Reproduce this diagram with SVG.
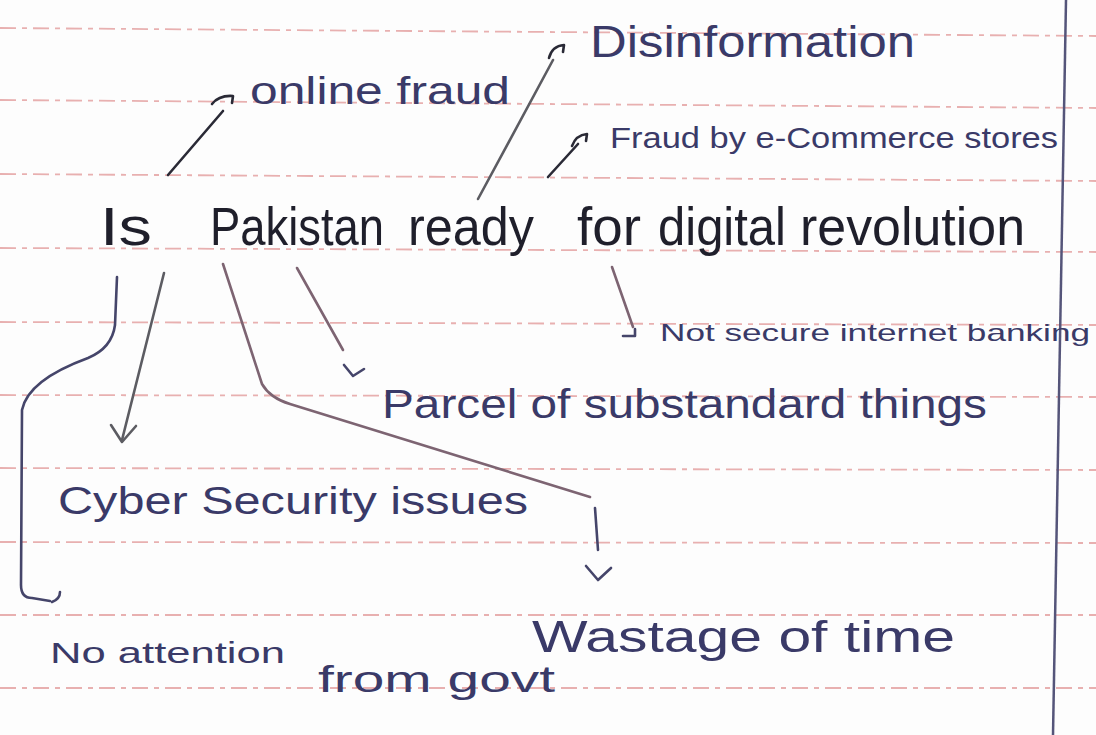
<svg xmlns="http://www.w3.org/2000/svg" width="1096" height="735" viewBox="0 0 1096 735">
  <style>
    .rule { stroke: #e8b0b0; stroke-width: 1.8; fill: none; stroke-dasharray: 16 6 5 6; }
    .margin { stroke: #55557a; stroke-width: 2.5; fill: none; }
    .title { font-family: "Liberation Sans", "DejaVu Sans", sans-serif; font-size: 54px; fill: #1f1f2b; }
    .lbl { font-family: "Liberation Sans", "DejaVu Sans", sans-serif; fill: #3a3a68; }
    .con { fill: none; stroke-width: 2.6; stroke-linecap: round; stroke-linejoin: round; }
    .dark { stroke: #2a2a36; }
    .grey { stroke: #5c5c62; }
    .mauve { stroke: #7d6472; }
    .navy { stroke: #45456a; }
  </style>
  <rect x="0" y="0" width="1096" height="735" fill="#fdfdfd"/>
  <g id="page-rules">
    <path class="rule" d="M0,28 L1096,36"/>
    <path class="rule" d="M0,100 L1096,108"/>
    <path class="rule" d="M0,174 L1096,181"/>
    <path class="rule" d="M0,248 L1096,252"/>
    <path class="rule" d="M0,322 L1096,325"/>
    <path class="rule" d="M0,395 L1096,397"/>
    <path class="rule" d="M0,468 L1096,470"/>
    <path class="rule" d="M0,542 L1096,543"/>
    <path class="rule" d="M0,615 L1096,615"/>
    <path class="rule" d="M0,688 L1096,688"/>
    <path class="margin" d="M1066,0 L1053,735"/>
  </g>
  <g id="connectors">
    <!-- online fraud -->
    <path class="con dark" d="M168,175 L223,111"/>
    <path class="con dark" d="M212,104 Q219,95 233,96 L232,103"/>
    <!-- Disinformation -->
    <path class="con grey" d="M478,199 L553,60"/>
    <path class="con dark" d="M549,58 Q552,46 564,45 L563,52"/>
    <!-- Fraud by e-Commerce -->
    <path class="con dark" d="M548,177 L578,144"/>
    <path class="con dark" d="M572,146 Q576,135 587,134 L586,141"/>
    <!-- Not secure internet banking -->
    <path class="con mauve" d="M612,267 L633,327"/>
    <path class="con navy" d="M623,336 L635,336 L635,329"/>
    <!-- Parcel -->
    <path class="con mauve" d="M297,268 L343,350"/>
    <path class="con navy" d="M344,365 L353,376 L364,369"/>
    <!-- Cyber security -->
    <path class="con grey" d="M164,273 L122,440"/>
    <path class="con grey" d="M111,425 L122,442 L136,426"/>
    <!-- Wastage of time -->
    <path class="con mauve" d="M223,264 L262,384 Q270,398 290,404 L590,497"/>
    <path class="con navy" d="M595,508 L598,550"/>
    <path class="con navy" d="M586,566 L598,580 L611,568"/>
    <!-- No attention from govt -->
    <path class="con navy" d="M117,277 L115,325 Q112,348 88,358 Q28,380 22,410 L21,585 Q21,598 32,598 L50,601"/>
    <path class="con navy" d="M52,602 Q60,599 60,592"/>
  </g>
  <g id="title">
    <text class="title" y="245"><tspan x="100" textLength="52" lengthAdjust="spacingAndGlyphs">Is</tspan><tspan x="210" textLength="174" lengthAdjust="spacingAndGlyphs">Pakistan</tspan><tspan x="408" textLength="126" lengthAdjust="spacingAndGlyphs">ready</tspan><tspan x="577" textLength="64" lengthAdjust="spacingAndGlyphs">for</tspan><tspan x="658" textLength="128" lengthAdjust="spacingAndGlyphs">digital</tspan><tspan x="800" textLength="225" lengthAdjust="spacingAndGlyphs">revolution</tspan></text>
  </g>
  <g id="online-fraud">
    <text class="lbl" x="250" y="104" font-size="38" textLength="260" lengthAdjust="spacingAndGlyphs">online fraud</text>
  </g>
  <g id="disinformation">
    <text class="lbl" x="590" y="57" font-size="44" textLength="325" lengthAdjust="spacingAndGlyphs">Disinformation</text>
  </g>
  <g id="fraud-ecommerce">
    <text class="lbl" x="610" y="148" font-size="30" textLength="448" lengthAdjust="spacingAndGlyphs">Fraud by e-Commerce stores</text>
  </g>
  <g id="not-secure">
    <text class="lbl" x="660" y="341" font-size="24" textLength="430" lengthAdjust="spacingAndGlyphs">Not secure internet banking</text>
  </g>
  <g id="parcel">
    <text class="lbl" x="382" y="418" font-size="40" textLength="605" lengthAdjust="spacingAndGlyphs">Parcel of substandard things</text>
  </g>
  <g id="cyber-security">
    <text class="lbl" x="58" y="514" font-size="38" textLength="470" lengthAdjust="spacingAndGlyphs">Cyber Security issues</text>
  </g>
  <g id="wastage">
    <text class="lbl" x="532" y="652" font-size="44" textLength="423" lengthAdjust="spacingAndGlyphs">Wastage of time</text>
  </g>
  <g id="no-attention">
    <text class="lbl"><tspan x="50" y="663" font-size="30" textLength="235" lengthAdjust="spacingAndGlyphs">No attention</tspan><tspan x="318" y="692" font-size="36" textLength="237" lengthAdjust="spacingAndGlyphs">from govt</tspan></text>
  </g>
</svg>
